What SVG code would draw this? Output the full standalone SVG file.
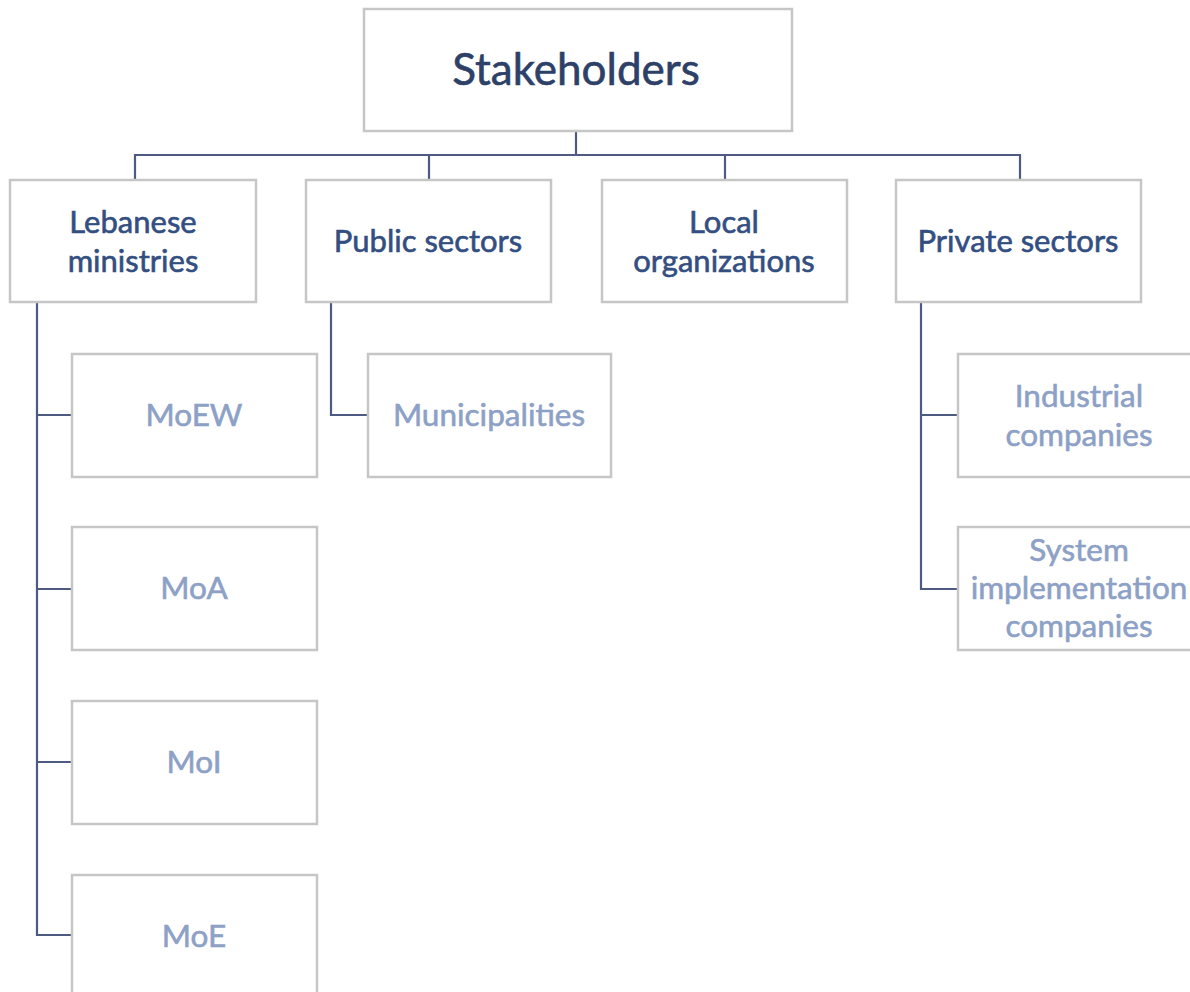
<svg xmlns="http://www.w3.org/2000/svg" width="1190" height="992" viewBox="0 0 1190 992">
<style>
.box{fill:#ffffff;stroke:#c6c6c6;stroke-width:2.5}
.conn{fill:none;stroke:#4d5b82;stroke-width:2.2}
.t0{font-family:Lato,"Liberation Sans",sans-serif;font-size:44px;fill:#2d4068;stroke:#2d4068;stroke-width:0.6;text-anchor:middle;dominant-baseline:central}
.t1{font-family:Lato,"Liberation Sans",sans-serif;font-size:31px;fill:#334e80;stroke:#334e80;stroke-width:0.6;text-anchor:middle;dominant-baseline:central}
.t2{font-family:Lato,"Liberation Sans",sans-serif;font-size:31.5px;fill:#8da1c6;stroke:#8da1c6;stroke-width:0.6;text-anchor:middle;dominant-baseline:central}
</style>
<rect width="1190" height="992" fill="#ffffff"/>
<g id="connectors">
<path class="conn" d="M576 131V155M135 180V155H1020V180M429 155V180M725 155V180"/>
<path class="conn" d="M37 302V935H72M37 415H72M37 589H72M37 762H72"/>
<path class="conn" d="M331 302V415H368"/>
<path class="conn" d="M921 302V589H958M921 415H958"/>
</g>
<g id="stakeholders"><rect class="box" x="364" y="9" width="428" height="122"/><text class="t0" x="576" y="68">Stakeholders</text></g>
<g id="lebanese"><rect class="box" x="10" y="180" width="246" height="122"/><text class="t1" x="133" y="221">Lebanese</text><text class="t1" x="133" y="260">ministries</text></g>
<g id="public"><rect class="box" x="306" y="180" width="245" height="122"/><text class="t1" x="428" y="240">Public sectors</text></g>
<g id="local"><rect class="box" x="602" y="180" width="245" height="122"/><text class="t1" x="724" y="221">Local</text><text class="t1" x="724" y="260">organizations</text></g>
<g id="private"><rect class="box" x="896" y="180" width="245" height="122"/><text class="t1" x="1018" y="240">Private sectors</text></g>
<g id="moew"><rect class="box" x="72" y="354" width="245" height="123"/><text class="t2" x="194" y="414">MoEW</text></g>
<g id="moa"><rect class="box" x="72" y="527" width="245" height="123"/><text class="t2" x="194" y="587">MoA</text></g>
<g id="moi"><rect class="box" x="72" y="701" width="245" height="123"/><text class="t2" x="194" y="761">MoI</text></g>
<g id="moe"><rect class="box" x="72" y="875" width="245" height="123"/><text class="t2" x="194" y="935">MoE</text></g>
<g id="municipalities"><rect class="box" x="368" y="354" width="243" height="123"/><text class="t2" x="489" y="414">Municipalities</text></g>
<g id="industrial"><rect class="box" x="958" y="354" width="245" height="123"/><text class="t2" x="1079" y="395">Industrial</text><text class="t2" x="1079" y="434">companies</text></g>
<g id="system"><rect class="box" x="958" y="527" width="245" height="123"/><text class="t2" x="1079" y="549">System</text><text class="t2" x="1079" y="587">implementation</text><text class="t2" x="1079" y="625">companies</text></g>
</svg>
